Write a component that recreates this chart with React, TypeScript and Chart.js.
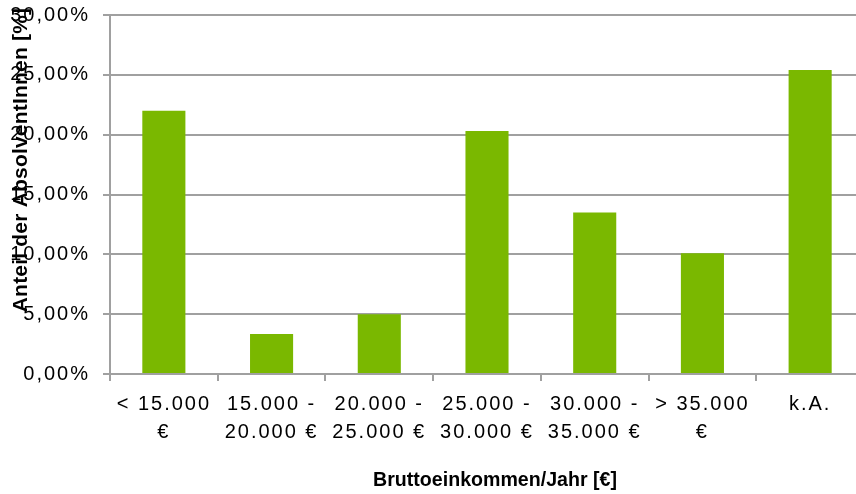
import React, { useEffect, useRef } from "react";
import { Chart, registerables } from "chart.js";

Chart.register(...registerables);

const categories: string[][] = [
  ["< 15.000", "€"],
  ["15.000 -", "20.000 €"],
  ["20.000 -", "25.000 €"],
  ["25.000 -", "30.000 €"],
  ["30.000 -", "35.000 €"],
  ["> 35.000", "€"],
  ["k.A."],
];
const shares: number[] = [22.0, 3.35, 5.0, 20.3, 13.5, 10.1, 25.4];
const yTicks: number[] = [0, 5, 10, 15, 20, 25, 30];

const xTitle = "Bruttoeinkommen/Jahr [€]";
const yTitle = "Anteil der AbsolventInnen [%]";

const FONT = '"Liberation Sans", Arial, sans-serif';
const GRID = "#a0a0a0";
const BAR = "#7ab800";
const TICK_SPACING = "2px";

const spacingPlugin = {
  id: "spacing",
  beforeUpdate(chart: any) {
    chart.ctx.letterSpacing = TICK_SPACING;
  },
  beforeLayout(chart: any) {
    chart.ctx.letterSpacing = TICK_SPACING;
  },
  beforeDraw(chart: any) {
    chart.ctx.letterSpacing = TICK_SPACING;
  },
  afterDraw(chart: any) {
    const ctx = chart.ctx;
    const area = chart.chartArea;
    ctx.save();
    ctx.fillStyle = "#000";
    ctx.textAlign = "center";
    ctx.textBaseline = "middle";
    ctx.letterSpacing = "0px";
    ctx.font = `bold 19.6px ${FONT}`;
    ctx.fillText(xTitle, (area.left + area.right) / 2 + 8, 481);
    ctx.restore();

    ctx.save();
    ctx.fillStyle = "#000";
    ctx.textAlign = "center";
    ctx.textBaseline = "middle";
    ctx.letterSpacing = "0.2px";
    ctx.font = `bold 21px ${FONT}`;
    ctx.translate(21, 160);
    ctx.rotate(-Math.PI / 2);
    ctx.fillText(yTitle, 0, 0);
    ctx.restore();
  },
};

export default function App() {
  const ref = useRef<HTMLCanvasElement | null>(null);

  useEffect(() => {
    if (!ref.current) return;
    const chart = new Chart(ref.current, {
      type: "bar",
      data: {
        labels: categories,
        datasets: [
          {
            data: shares,
            backgroundColor: BAR,
            borderWidth: 0,
            categoryPercentage: 1,
            barPercentage: 0.4,
          },
        ],
      },
      options: {
        animation: false,
        responsive: false,
        devicePixelRatio: 1,
        layout: { padding: { top: 15, right: 6, left: 0, bottom: 0 } },
        plugins: {
          legend: { display: false },
          tooltip: { enabled: false },
          title: { display: false },
        },
        scales: {
          x: {
            grid: {
              offset: true,
              drawOnChartArea: false,
              drawTicks: true,
              tickLength: 7,
              color: GRID,
              lineWidth: 2,
            },
            border: { display: true, color: GRID, width: 2 },
            ticks: {
              color: "#000",
              padding: 10,
              maxRotation: 0,
              minRotation: 0,
              autoSkip: false,
              font: { family: FONT, size: 20, lineHeight: 1.37 },
            },
            afterFit(scale: any) {
              scale.height = 120;
              scale.paddingLeft = 0;
              scale.paddingRight = 0;
            },
          },
          y: {
            min: 0,
            max: 30,
            afterBuildTicks(scale: any) {
              scale.ticks = yTicks.map((v) => ({ value: v }));
            },
            grid: {
              color: GRID,
              lineWidth: 2,
              drawTicks: true,
              tickLength: 7,
            },
            border: { display: true, color: GRID, width: 2 },
            ticks: {
              color: "#000",
              padding: 13,
              font: { family: FONT, size: 20 },
              callback: (v: any) => Number(v).toFixed(2).replace(".", ",") + "%",
            },
            afterFit(scale: any) {
              scale.width = 110;
              scale.paddingTop = 0;
              scale.paddingBottom = 0;
            },
          },
        },
      },
      plugins: [spacingPlugin],
    });
    return () => chart.destroy();
  }, []);

  return (
    <div
      style={{
        position: "fixed",
        left: 0,
        top: 0,
        width: 856,
        height: 494,
        overflow: "hidden",
        background: "#fff",
      }}
    >
      <canvas ref={ref} width={870} height={494} style={{ display: "block" }} />
    </div>
  );
}
